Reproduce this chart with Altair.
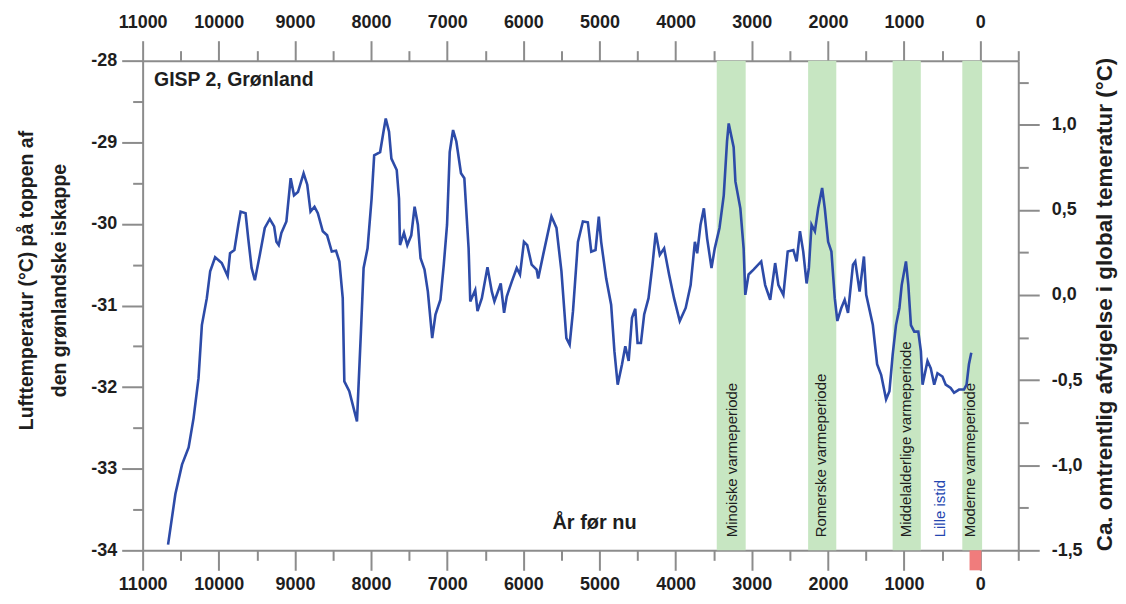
import altair as alt
import pandas as pd

# ---------------- data ----------------
years = [10666, 10570, 10483, 10396, 10331, 10266, 10222, 10157, 10113, 10048,
         9961, 9883, 9852, 9795, 9743, 9713, 9648, 9613, 9569, 9526,
         9461, 9396, 9330, 9273, 9243, 9213, 9178, 9112, 9056, 9012,
         8960, 8886, 8838, 8795, 8743, 8699, 8634, 8577, 8516, 8460,
         8416, 8372, 8351, 8286, 8185, 8133, 8098, 8046, 7993, 7959,
         7881, 7837, 7807, 7764, 7733, 7663, 7633, 7620, 7568, 7524,
         7472, 7428, 7385, 7350, 7298, 7254, 7197, 7154, 7089, 7045,
         7002, 6967, 6923, 6880, 6819, 6775, 6719, 6697, 6632, 6602,
         6545, 6471, 6414, 6380, 6297, 6253, 6218, 6153, 6087, 6044,
         5992, 5949, 5891, 5826, 5805, 5740, 5631, 5565, 5500, 5435,
         5392, 5348, 5283, 5218, 5153, 5108, 5052, 5009, 4978, 4912,
         4847, 4804, 4761, 4704, 4661, 4617, 4573, 4530, 4500, 4456,
         4413, 4356, 4304, 4261, 4208, 4151, 4086, 4021, 3946, 3868,
         3803, 3747, 3717, 3673, 3629, 3586, 3529, 3486, 3424, 3368,
         3325, 3303, 3238, 3215, 3150, 3107, 3085, 3042, 2977, 2876,
         2824, 2758, 2693, 2650, 2585, 2528, 2454, 2411, 2367, 2324,
         2280, 2250, 2215, 2171, 2128, 2076, 2041, 1997, 1954, 1910,
         1876, 1824, 1780, 1736, 1671, 1641, 1584, 1527, 1497, 1410,
         1354, 1301, 1236, 1192, 1149, 1106, 1061, 1031, 975, 944,
         910, 866, 813, 779, 757, 692, 649, 604, 561, 496,
         453, 388, 343, 278, 213, 179, 148, 117]
temps = [-33.93, -33.31, -32.95, -32.74, -32.38, -31.89, -31.24, -30.91, -30.58, -30.41,
         -30.48, -30.64, -30.36, -30.32, -30.01, -29.85, -29.87, -30.18, -30.54, -30.69,
         -30.38, -30.05, -29.94, -30.03, -30.22, -30.26, -30.11, -29.97, -29.44, -29.65,
         -29.61, -29.38, -29.52, -29.85, -29.79, -29.87, -30.09, -30.14, -30.34, -30.33,
         -30.46, -30.91, -31.93, -32.05, -32.42, -31.32, -30.54, -30.30, -29.69, -29.16,
         -29.12, -28.87, -28.71, -28.87, -29.20, -29.34, -29.69, -30.26, -30.11, -30.26,
         -30.14, -29.79, -30.01, -30.42, -30.56, -30.83, -31.40, -31.11, -30.93, -30.50,
         -30.01, -29.12, -28.85, -28.99, -29.38, -29.44, -30.30, -30.95, -30.81, -31.07,
         -30.91, -30.53, -30.83, -30.95, -30.73, -31.09, -30.89, -30.71, -30.54, -30.62,
         -30.22, -30.26, -30.50, -30.56, -30.67, -30.38, -29.91, -30.05, -30.58, -31.40,
         -31.48, -31.07, -30.22, -29.97, -29.98, -30.34, -30.32, -29.91, -30.22, -30.67,
         -30.99, -31.56, -31.97, -31.72, -31.50, -31.68, -31.15, -31.04, -31.46, -31.46,
         -31.11, -30.91, -30.50, -30.11, -30.38, -30.30, -30.62, -30.91, -31.19, -31.03,
         -30.75, -30.22, -30.36, -30.01, -29.81, -30.18, -30.54, -30.30, -30.05, -29.65,
         -28.99, -28.77, -29.06, -29.48, -29.81, -30.30, -30.87, -30.62, -30.56, -30.46,
         -30.75, -30.93, -30.48, -30.75, -30.87, -30.34, -30.32, -30.46, -30.09, -30.34,
         -30.73, -30.54, -30.01, -30.09, -29.81, -29.56, -29.81, -30.22, -30.34, -30.91,
         -31.19, -31.03, -30.93, -31.09, -30.50, -30.46, -30.83, -30.40, -30.87, -31.24,
         -31.72, -31.85, -32.15, -32.05, -31.60, -31.24, -31.03, -30.75, -30.46, -30.75,
         -31.24, -31.32, -31.32, -31.56, -31.97, -31.68, -31.77, -31.97, -31.83, -31.87,
         -31.97, -32.01, -32.07, -32.03, -32.03, -31.97, -31.72, -31.58]

band_start = [3460, 2260, 1150, 235]
band_end = [3080, 1890, 780, -25]

period_labels = ["Minoiske varmeperiode", "Romerske varmeperiode",
                 "Middelalderlige varmeperiode", "Lille istid", "Moderne varmeperiode"]
period_label_years = [3265, 2085, 975, 525, 130]
period_label_kind = ["varm", "varm", "varm", "kold", "varm"]

red_start = [140]
red_end = [-15]

x_ticks = list(range(11000, -501, -500))
left_ticks = [-34 + 0.5 * i for i in range(13)]
right_ticks = [-1.5 + 0.25 * i for i in range(12)]

# ---------------- styling ----------------
FONT = "Liberation Sans, Arial, Helvetica, sans-serif"
AX = "#8c8c8c"
LINE_BLUE = "#2d4ba8"
GREEN = "#c7e6c2"
RED = "#f07c7c"
TXT = "#1e1e1e"

xs = alt.Scale(domain=[11000, -500], nice=False, zero=False)
ys = alt.Scale(domain=[-34, -28], nice=False, zero=False)
rs = alt.Scale(domain=[-1.5, 1.376], nice=False, zero=False)

common_axis = dict(domainColor=AX, domainWidth=2, tickColor=AX, tickWidth=2,
                   grid=False, labelFont=FONT, labelFontSize=18, labelColor=TXT,
                   labelFontWeight="bold",
                   labelOverlap=False, labelFlush=False, titleFont=FONT,
                   titleFontWeight="bold", titleColor=TXT)

x_tick_size = {"condition": {"test": "datum.value % 1000 === 0", "value": 20}, "value": 10}
x_label = "datum.value % 1000 === 0 && datum.value >= 0 ? '' + datum.value : ''"

bottom_axis = alt.Axis(orient="bottom", values=x_ticks, tickSize=x_tick_size,
                       labelExpr=x_label, title=None, labelPadding=5, **common_axis)
top_axis = alt.Axis(orient="top", values=x_ticks, tickSize=x_tick_size,
                    labelExpr=x_label, title=None, labelPadding=9, **common_axis)

left_axis = alt.Axis(
    orient="left", values=left_ticks,
    tickSize={"condition": {"test": "datum.value % 1 === 0", "value": 21}, "value": 10},
    labelExpr="datum.value % 1 === 0 ? '-' + abs(datum.value) : ''",
    labelPadding=5,
    title=["Lufttemperatur (°C) på toppen af", "den grønlandske iskappe"],
    titleFontSize=19.5,
    titleAngle=270, titleX=-116, titleY=220, titleAlign="center",
    titleBaseline="middle", titleLineHeight=33, **common_axis)

right_axis = alt.Axis(
    orient="right", values=right_ticks,
    tickSize={"condition": {"test": "round(datum.value * 100) % 50 === 0", "value": 21}, "value": 10},
    labelExpr="round(datum.value * 100) % 50 === 0 ? (datum.value < 0 ? '-' : '') + replace(format(abs(datum.value), '.1f'), '.', ',') : ''",
    labelPadding=12,
    title="Ca. omtrentlig afvigelse i global temeratur (°C)",
    titleFontSize=22.5,
    titleAngle=270, titleX=86, titleY=244, titleAlign="center",
    titleBaseline="middle", **common_axis)

# ---------------- layers ----------------
bands_df = pd.DataFrame({"start": band_start, "end": band_end})
bands = alt.Chart(bands_df).mark_rect(color=GREEN).encode(
    x=alt.X("start:Q", scale=xs, axis=None),
    x2="end:Q",
)

labels_df = pd.DataFrame({"label": period_labels, "year": period_label_years,
                          "kind": period_label_kind})
period_text = alt.Chart(labels_df).mark_text(
    angle=270, align="left", baseline="middle", font=FONT, fontSize=15
).encode(
    x=alt.X("year:Q", scale=xs, axis=None),
    y=alt.datum(-33.84, scale=ys, axis=None),
    text="label:N",
    color=alt.Color("kind:N", scale=alt.Scale(domain=["varm", "kold"],
                                              range=[TXT, "#2446b0"]), legend=None),
)

line_df = pd.DataFrame({"year": years, "temp": temps})
line = alt.Chart(line_df).mark_line(color=LINE_BLUE, strokeWidth=2.6).encode(
    x=alt.X("year:Q", scale=xs, axis=bottom_axis),
    y=alt.Y("temp:Q", scale=ys, axis=left_axis),
    order="year:Q",
)

red_df = pd.DataFrame({"start": red_start, "end": red_end})
red = alt.Chart(red_df).mark_rect(color=RED).encode(
    x=alt.X("start:Q", scale=xs, axis=None),
    x2="end:Q",
    y=alt.datum(-34, scale=ys, axis=None),
    y2=alt.datum(-34.245),
)

gisp = alt.Chart(pd.DataFrame({"t": ["GISP 2, Grønland"]})).mark_text(
    align="left", baseline="middle", font=FONT, fontSize=19.5, fontWeight="bold", color=TXT
).encode(
    x=alt.datum(10850, scale=xs, axis=None),
    y=alt.datum(-28.24, scale=ys, axis=None),
    text="t:N",
)

aar = alt.Chart(pd.DataFrame({"t": ["År før nu"]})).mark_text(
    align="center", baseline="middle", font=FONT, fontSize=20, fontWeight="bold", color=TXT
).encode(
    x=alt.datum(5065, scale=xs, axis=None),
    y=alt.datum(-33.66, scale=ys, axis=None),
    text="t:N",
)

top_df = pd.DataFrame({"year": x_ticks})
top_layer = alt.Chart(top_df).mark_point(opacity=0).encode(
    x=alt.X("year:Q", scale=xs, axis=top_axis),
    y=alt.datum(-31, scale=ys, axis=None),
)

right_df = pd.DataFrame({"v": right_ticks})
right_layer = alt.Chart(right_df).mark_point(opacity=0).encode(
    x=alt.datum(5000, scale=xs, axis=None),
    y=alt.Y("v:Q", scale=rs, axis=right_axis),
)

chart = alt.layer(
    bands, period_text, line, red, gisp, aar, top_layer, right_layer
).resolve_scale(y="independent").resolve_axis(x="independent", y="independent").properties(
    width=878, height=491,
    autosize=alt.AutoSizeParams(type="none"),
    padding={"left": 135, "top": 52, "right": 100, "bottom": 45},
    background="white",
).configure_view(stroke=None)

chart.save("out.html", embed_options={"renderer": "svg", "actions": False})
